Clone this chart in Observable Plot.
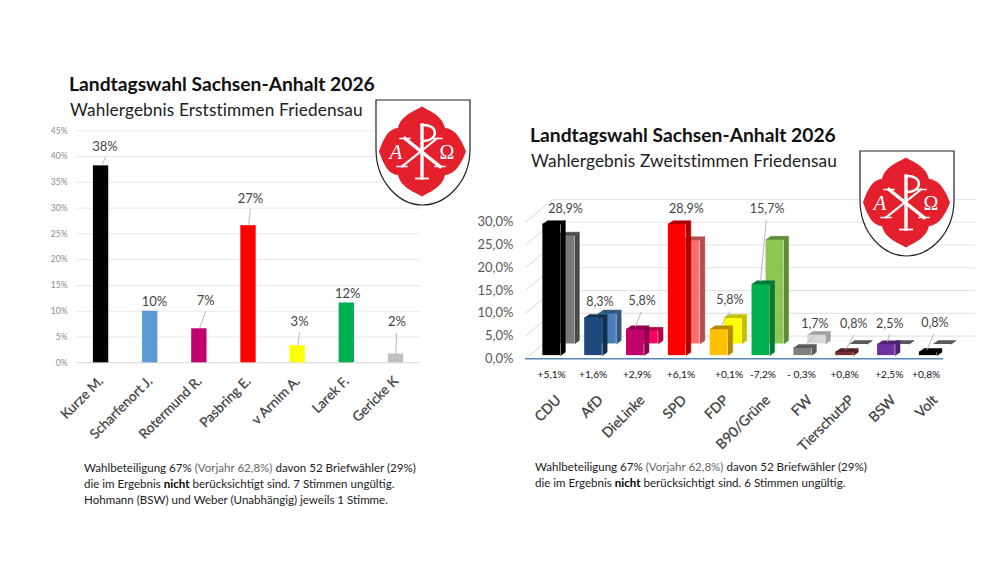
<!DOCTYPE html>
<html lang="de">
<head>
<meta charset="utf-8">
<script src="https://cdn.jsdelivr.net/npm/d3@7"></script>
<script src="https://cdn.jsdelivr.net/npm/@observablehq/plot@0.6"></script>
<style>
  html, body { margin: 0; padding: 0; background: #fff; }
  #page { position: relative; width: 1000px; height: 563px; overflow: hidden; font-family: Lato, "Open Sans", sans-serif; }
  #page > div, #page > svg, #page > figure { position: absolute; margin: 0; }
  .title { font-weight: 700; font-size: 19.25px; color: #111; white-space: nowrap; line-height: 24px; }
  .sub { font-size: 17.25px; color: #222; white-space: nowrap; line-height: 24px; letter-spacing: .1px; }
  .note { font-size: 11.55px; line-height: 16px; color: #222; white-space: nowrap; }
  .note span { color: #666; }
  .note b { color: #000; }
</style>
</head>
<body>
<div id="page"></div>
<script>
// ---------- data: Erststimmen ----------
const candidates = ["Kurze M.", "Scharfenort J.", "Rotermund R.", "Pasbring E.", "v Arnim A.", "Larek F.", "Gericke K"];
const firstVotes = [38.2, 10.0, 6.6, 26.6, 3.3, 11.6, 1.7];
const firstLabels = ["38%", "10%", "7%", "27%", "3%", "12%", "2%"];
const candidateColors = ["#000000", "#5b9bd5", "#c2006b", "#ff0000", "#ffff00", "#00b050", "#bfbfbf"];
const firstTicks = [0, 5, 10, 15, 20, 25, 30, 35, 40, 45];

// ---------- data: Zweitstimmen ----------
const parties = ["CDU", "AfD", "DieLinke", "SPD", "FDP", "B90/Grüne", "FW", "TierschutzP", "BSW", "Volt"];
const secondVotes = [28.9, 8.3, 5.8, 28.9, 5.8, 15.7, 1.7, 0.8, 2.5, 0.8];
const previousVotes = [23.8, 6.7, 2.9, 22.8, 5.7, 22.9, 2.0, 0, 0, 0];
const secondLabels = ["28,9%", "8,3%", "5,8%", "28,9%", "5,8%", "15,7%", "1,7%", "0,8%", "2,5%", "0,8%"];
const changes = ["+5,1%", "+1,6%", "+2,9%", "+6,1%", "+0,1%", "-7,2%", "- 0,3%", "+0,8%", "+2,5%", "+0,8%"];
const secondTicks = [0, 5, 10, 15, 20, 25, 30];
const frontColors = ["#000000", "#1f497d", "#c2006b", "#ff0000", "#ffc000", "#00b050", "#7f7f7f", "#7b2c2c", "#7030a0", "#000000"];
const frontSides = ["#000000", "#14304f", "#8c004d", "#b00000", "#b58900", "#007a38", "#5a5a5a", "#561f1f", "#4f2272", "#000000"];
const backColors = ["#7a7a7a", "#4a7ebb", "#ff0066", "#ff6f6f", "#ffff00", "#8cc653", "#d9d9d9", "#595959", "#595959", "#595959"];
const backSides = ["#4a4a4a", "#33587f", "#b30047", "#b24e4e", "#c2c200", "#5f8a38", "#a0a0a0", "#595959", "#595959", "#595959"];

// ---------- layout of labels and leaders, in scale units ----------
const firstLabelAt = [[0.08, 41.95], [1.085, 11.9], [2.13, 12], [3.04, 31.9], [4.04, 7.9], [5.02, 13.3], [6.02, 7.9]];
const firstLeaders = [[0.095, 39.9, 0.01, 38.2], [2.13, 9.95, 2, 6.6], [3.04, 29.9, 3, 26.6], [4.04, 5.95, 4, 3.3], [6.01, 5.82, 6, 1.7]];
const secondLabelAt = [[0.33, 32.9], [1.15, 12.5], [2.16, 12.6], [3.22, 32.9], [4.26, 13], [5.15, 32.9], [6.29, 7.7], [7.22, 7.57], [8.08, 7.57], [9.16, 7.94]];
const secondLeaders = [[2.14, 10.3, 2, 7], [4.26, 10.44, 4.05, 7.2], [5.13, 30.5, 4.99, 16.9], [6.28, 5, 6.05, 2.94], [7.22, 5.15, 7.02, 1.84], [8.08, 5.37, 8.02, 3.68], [9.13, 5.51, 8.97, 1.84]];
const changeAt = [0, 0.99, 2.04, 3.09, 4.24, 5.05, 5.97, 7.0, 8.07, 8.95];

const page = document.getElementById("page");
function place(el, left, top) { el.style.left = left + "px"; el.style.top = top + "px"; page.appendChild(el); return el; }
function html(cls, content, left, top) {
  const d = document.createElement("div"); d.className = cls; d.innerHTML = content; return place(d, left, top);
}

// ---------- left chart ----------
const left = Plot.plot({
  width: 460, height: 563,
  marginLeft: 76, marginRight: 40, marginTop: 130.3, marginBottom: 200.7,
  style: { fontFamily: "Lato, sans-serif", background: "transparent" },
  x: { type: "linear", domain: [-0.5, 6.5] },
  y: { domain: [0, 45] },
  marks: [
    Plot.ruleY(firstTicks, { stroke: d => d === 0 ? "#d4d4d4" : "#e8e8e8", strokeWidth: 1 }),
    Plot.axisY({ ticks: firstTicks, tickSize: 0, tickPadding: 9, tickFormat: d => d + "%", fontSize: 8.5, color: "#8a8a8a", label: null }),
    Plot.axisX({ ticks: d3.range(candidates.length), tickFormat: i => candidates[i], tickRotate: -45, tickSize: 0, tickPadding: 16, fontSize: 13.6, color: "#404040", textStroke: "#404040", textStrokeWidth: 0.25, label: null, dx: 0 }),
    Plot.rectY(firstVotes, { x1: (d, i) => i - 0.156, x2: (d, i) => i + 0.156, y1: 0, y2: d => d, fill: (d, i) => candidateColors[i] }),
    Plot.link(firstLeaders, { x1: d => d[0], y1: d => d[1], x2: d => d[2], y2: d => d[3], stroke: "#a6a6a6", strokeWidth: 0.8 }),
    Plot.text(firstLabels, { x: (d, i) => firstLabelAt[i][0], y: (d, i) => firstLabelAt[i][1], text: d => d, fontSize: 13, fill: "#444" })
  ]
});
place(left, 0, 0);

// ---------- right chart ----------
const depth = { x: 0.115, y: 0.74 };          // extrusion of each column
const rowBack = { x: 0.335, y: 2.57 };        // shift of the rear row
const wall = { x: 0.65, y: 5 };               // shift of the back wall
const half = 0.211, lift = 0.7;

function columns(values, row, faces, sides) {
  const polys = [], rects = [];
  values.forEach((v, i) => {
    const xa = i + row.x - half, xb = i + row.x + half, y0 = lift + row.y, y1 = y0 + v;
    rects.push({ xa, xb, y0, y1, fill: faces[i] });
    polys.push({ fill: sides[i], pts: [[xb, y0], [xb + depth.x, y0 + depth.y], [xb + depth.x, y1 + depth.y], [xb, y1]] });
    polys.push({ fill: sides[i], pts: [[xa, y1], [xa + depth.x, y1 + depth.y], [xb + depth.x, y1 + depth.y], [xb, y1]] });
  });
  return { rects, polys };
}
function polyRows(polys) {
  return polys.flatMap((p, k) => p.pts.map(([x, y]) => ({ x, y, k, fill: p.fill })));
}
const front = columns(secondVotes, { x: 0, y: 0 }, frontColors, frontSides);
const back = columns(previousVotes, rowBack, backColors, backSides);
const xMin = -0.626;

const right = Plot.plot({
  width: 540, height: 563,
  marginLeft: 65, marginRight: 25, marginTop: 199, marginBottom: 204.7,
  style: { fontFamily: "Lato, sans-serif", background: "transparent" },
  x: { type: "linear", domain: [xMin, 10.13] },
  y: { domain: [0, 35] },
  marks: [
    Plot.ruleY(secondTicks, { y: d => d + wall.y, x1: xMin + wall.x, x2: 10.13, stroke: "#e4e4e4", strokeWidth: 1.2 }),
    Plot.link(secondTicks, { x1: xMin, y1: d => d, x2: xMin + wall.x, y2: d => d + wall.y, stroke: "#e4e4e4", strokeWidth: 1.2 }),
    Plot.ruleY([0], { x1: xMin, x2: 9.37, stroke: "#5b87b5", strokeWidth: 1.4 }),
    Plot.axisY({ ticks: secondTicks, tickSize: 0, tickPadding: 12, tickFormat: d => d3.format(".1f")(d).replace(".", ",") + "%", fontSize: 13, color: "#595959", label: null }),
    Plot.axisX({ ticks: d3.range(parties.length), tickFormat: i => parties[i], tickRotate: -45, tickSize: 0, tickPadding: 39, fontSize: 14, color: "#404040", textStroke: "#404040", textStrokeWidth: 0.3, label: null, dx: 7 }),
    Plot.rect(back.rects, { x1: "xa", x2: "xb", y1: "y0", y2: "y1", fill: d => d.fill }),
    Plot.line(polyRows(back.polys), { x: "x", y: "y", z: "k", fill: "fill", stroke: "fill", strokeWidth: 0.5 }),
    Plot.rect(front.rects, { x1: "xa", x2: "xb", y1: "y0", y2: "y1", fill: d => d.fill }),
    Plot.line(polyRows(front.polys), { x: "x", y: "y", z: "k", fill: "fill", stroke: "fill", strokeWidth: 0.5 }),
    Plot.link(secondLeaders, { x1: d => d[0], y1: d => d[1], x2: d => d[2], y2: d => d[3], stroke: "#a6a6a6", strokeWidth: 0.8 }),
    Plot.text(secondLabels, { x: (d, i) => secondLabelAt[i][0], y: (d, i) => secondLabelAt[i][1], text: d => d, fontSize: 12.5, fill: "#444" }),
    Plot.text(changes, { x: (d, i) => changeAt[i], y: 0, dy: 16, text: d => d, fontSize: 10.2, fill: "#111" })
  ]
});
place(right, 460, 0);

// ---------- headings and notes ----------
html("title", "Landtagswahl Sachsen-Anhalt 2026", 69, 72);
html("sub", "Wahlergebnis Erststimmen Friedensau", 70, 98);
html("title", "Landtagswahl Sachsen-Anhalt 2026", 530, 123);
html("sub", "Wahlergebnis Zweitstimmen Friedensau", 531, 149);
html("note", 'Wahlbeteiligung 67% <span>(Vorjahr 62,8%)</span> davon 52 Briefwähler (29%)<br>die im Ergebnis <b>nicht</b> berücksichtigt sind. 7 Stimmen ungültig.<br>Hohmann (BSW) und Weber (Unabhängig) jeweils 1 Stimme.', 84, 460);
html("note", 'Wahlbeteiligung 67% <span>(Vorjahr 62,8%)</span> davon 52 Briefwähler (29%)<br>die im Ergebnis <b>nicht</b> berücksichtigt sind. 6 Stimmen ungültig.', 535, 458.5);

// ---------- coat of arms ----------
function crest(leftPos, topPos) {
  const ns = "http://www.w3.org/2000/svg";
  const s = document.createElementNS(ns, "svg");
  s.setAttribute("width", 96); s.setAttribute("height", 108); s.setAttribute("viewBox", "0 0 96 108");
  s.innerHTML = `
    <path d="M1 1H95V50C95 84 70 106 47.5 106C25 106 1 84 1 50Z" fill="#fff" stroke="#222" stroke-width="1.2"/>
    <path d="M23 29C26 16 40 12 47 7.5C54 12 67 16 70 29C81 30 87 42 91 52.5C87 63 81 75 70 76C67 89 54 93 47 97.5C40 93 26 89 23 76C12 75 8 63 4 52.5C8 42 12 30 23 29Z" fill="#e3202c"/>
    <g stroke="#fff" fill="none" stroke-linecap="square">
      <path d="M30 39.5L65 67.5" stroke-width="3.4"/>
      <path d="M62 39.5L27 67.5" stroke-width="2.2"/>
      <path d="M47 26V79" stroke-width="3.4"/>
      <path d="M47 26C64 25 64 42 48 42" stroke-width="2.4"/>
      <path d="M41 79.5H53" stroke-width="1.8"/>
      <path d="M25 39.5H35M57 39.5H67M22 67.5H32M60 67.5H70" stroke-width="1.4"/>
    </g>
    <g fill="#fff" font-family="'Liberation Serif', serif" text-anchor="middle">
      <text x="21" y="60" font-size="21" font-style="italic">A</text>
      <text x="72" y="60" font-size="20">Ω</text>
    </g>`;
  return place(s, leftPos, topPos);
}
crest(375, 99);
crest(859, 150);
</script>
</body>
</html>
